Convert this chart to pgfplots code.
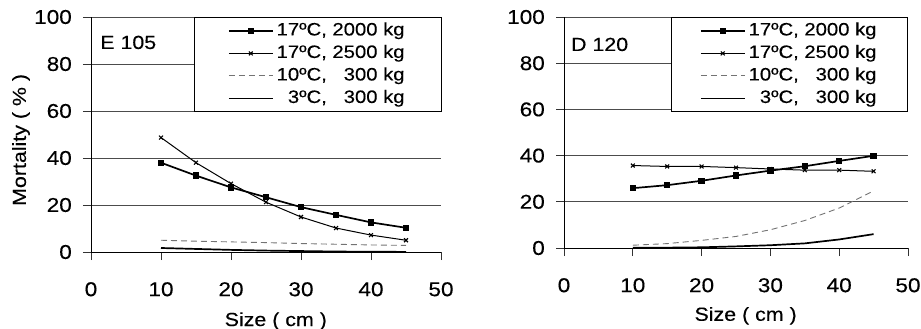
\documentclass[border=0pt]{standalone}
\usepackage{fontspec}
\setmainfont{Liberation Sans}[FakeStretch=1.13, FakeBold=0.3]
\usepackage{pgfplots}
\pgfplotsset{compat=1.18}
\pgfplotsset{
  panel/.style={
    scale only axis,
    xmin=0, xmax=50, ymin=0, ymax=100,
    axis x line*=bottom, axis y line*=left,
    xtick={0,10,...,50}, ytick={0,20,...,100},
    tick align=outside, major tick length=8bp,
    ymajorgrids, grid style={black!70, line width=0.8bp},
    axis line style={black, line width=1bp},
    tick style={black!80, line width=0.8bp},
    clip=false,
    /pgf/number format/assume math mode=true,
    ticklabel style={font=\fontsize{20}{23}\selectfont},
    yticklabel style={anchor=east, inner sep=0pt, xshift=-11bp},
    xticklabel style={anchor=north, inner sep=0pt, yshift=-22bp},
    label style={font=\fontsize{19}{22}\selectfont},
    xlabel={Size ( cm )},
    xlabel style={at={(axis description cs:0.528,-0.315)}, anchor=base},
    legend image code/.code={\draw[mark repeat=2,mark phase=2,##1] plot coordinates {(0bp,0bp) (22bp,0bp) (44bp,0bp)};},
    legend cell align=left,
  },
  s2000/.style={black, line width=1.7bp, mark=square*, mark size=2.3bp, mark options={solid, fill=black}},
  s2500/.style={black, line width=1bp, mark=x, mark size=2.7bp, mark options={solid, line width=1.1bp}},
  s10/.style={black!55, line width=0.9bp, dash pattern=on 6bp off 4bp, no marks},
  s3/.style={black, line width=1.7bp, no marks},
}
\begin{document}
\begin{tikzpicture}[x=1bp,y=1bp]
\useasboundingbox (0bp,0bp) rectangle (921bp,329bp);
% Left panel
\begin{axis}[panel, at={(91bp,77bp)}, anchor=south west, width=350bp, height=235bp,
  ylabel={Mortality ( \% )},
  ylabel style={at={(axis description cs:-0.200,0.477)}, anchor=center, rotate=0},
  legend style={at={(axis description cs:1.003,1)}, anchor=north east, draw=black, line width=0.9bp, fill=white,
    inner xsep=34bp, inner ysep=4bp, row sep=3.5bp,
    font=\fontsize{18}{21}\selectfont,
    nodes={inner xsep=3bp, inner ysep=1bp, text height=13bp, text depth=4bp}},
]
\addplot[s2000] coordinates {(10,38.0) (15,32.5) (20,27.5) (25,23.3) (30,19.1) (35,15.8) (40,12.6) (45,10.3)};
\addlegendentry{17ºC, 2000 kg}
\addplot[s2500] coordinates {(10,48.7) (15,38.0) (20,29.1) (25,21.2) (30,14.9) (35,10.2) (40,7.2) (45,5.0)};
\addlegendentry{17ºC, 2500 kg}
\addplot[s10] coordinates {(10,5.0) (15,4.6) (20,4.3) (25,4.0) (30,3.6) (35,3.3) (40,3.0) (45,2.8)};
\addlegendentry{10ºC, \phantom{2}300 kg}
\addplot[s3] coordinates {(10,1.7) (15,1.3) (20,0.9) (25,0.6) (30,0.4) (35,0.2) (40,0.1) (45,0.05)};
\addlegendentry{\phantom{1}3ºC, \phantom{2}300 kg}
\node[anchor=base west, inner sep=0pt, font=\fontsize{19}{22}\selectfont] at (rel axis cs:0.026,0.864) {E 105};
\end{axis}
% Right panel
\begin{axis}[panel, at={(564bp,81bp)}, anchor=south west, width=344bp, height=231bp,
  legend style={at={(axis description cs:1.0,1)}, anchor=north east, draw=black, line width=0.9bp, fill=white,
    inner xsep=28bp, inner ysep=4bp, row sep=3.5bp,
    font=\fontsize{18}{21}\selectfont,
    nodes={inner xsep=3bp, inner ysep=1bp, text height=13bp, text depth=4bp}},
]
\addplot[s2000] coordinates {(10,25.9) (15,27.2) (20,29.1) (25,31.4) (30,33.5) (35,35.4) (40,37.7) (45,39.9)};
\addlegendentry{17ºC, 2000 kg}
\addplot[s2500] coordinates {(10,35.7) (15,35.3) (20,35.3) (25,34.8) (30,34.2) (35,33.7) (40,33.7) (45,33.2)};
\addlegendentry{17ºC, 2500 kg}
\addplot[s10] coordinates {(10,1.2) (15,1.9) (20,3.3) (25,5.0) (30,7.9) (35,11.9) (40,17.3) (45,24.7)};
\addlegendentry{10ºC, \phantom{2}300 kg}
\addplot[s3] coordinates {(10,0.1) (15,0.15) (20,0.3) (25,0.7) (30,1.2) (35,2.0) (40,3.7) (45,6.0)};
\addlegendentry{\phantom{1}3ºC, \phantom{2}300 kg}
\node[anchor=base west, inner sep=0pt, font=\fontsize{19}{22}\selectfont] at (rel axis cs:0.020,0.853) {D 120};
\end{axis}
\end{tikzpicture}
\end{document}
